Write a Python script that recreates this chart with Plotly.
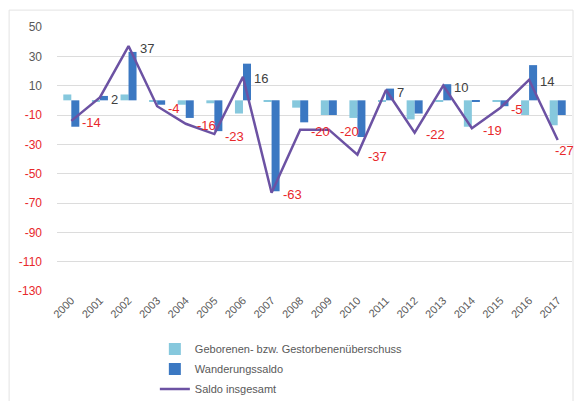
import plotly.graph_objects as go

# data
years = [str(y) for y in range(2000, 2018)]
natural = [4, -1, 4, -1, -3, -2, -9, -1, -5, -10, -12, -1, -13, -1, -18, -1, -10, -17]
migration = [-18, 3, 33, -3, -12, -21, 25, -62, -15, -10, -25, 8, -9, 11, -1, -4, 24, -10]
total = [-14, 2, 37, -4, -16, -23, 16, -63, -20, -20, -37, 7, -22, 10, -19, -5, 14, -27]
y_ticks = [50, 30, 10, -10, -30, -50, -70, -90, -110, -130]

grey = "#595959"
red = "#e8282b"

fig = go.Figure()

fig.add_trace(
    go.Bar(
        x=years,
        y=natural,
        name="Geborenen- bzw. Gestorbenenüberschuss",
        legendgroup="a",
        marker=dict(color="#86c8dd", line_width=0),
    )
)
fig.add_trace(
    go.Bar(
        x=years,
        y=migration,
        name="Wanderungssaldo",
        legendgroup="b",
        marker=dict(color="#3b78c2", line_width=0),
    )
)
fig.add_trace(
    go.Scatter(
        x=years,
        y=total,
        name="Saldo insgesamt",
        legendgroup="c",
        mode="lines",
        line=dict(color="#6c52a3", width=2.5),
    )
)

# value labels next to the line points (x = category index)
for i, v in enumerate(total):
    last = i == len(total) - 1
    fig.add_annotation(
        x=i,
        y=v,
        text=str(v),
        showarrow=False,
        xanchor="left",
        yanchor="middle",
        xshift=-5 if last else 9,
        yshift=-11 if last else -2,
        font=dict(size=13, color=red if v < 0 else "#404040"),
    )

# tick labels: negatives in red
tick_text = [
    f"<span style='color:{red}'>{v}</span>" if v < 0 else str(v) for v in y_ticks
]

# the page adds an 8px body margin on every side, so keep the figure inside the window
fig.update_layout(
    width=566,
    height=393,
    margin=dict(l=49, r=2, t=19, b=110, autoexpand=False),
    paper_bgcolor="white",
    plot_bgcolor="white",
    font=dict(family="Arial, Liberation Sans, sans-serif", size=11, color=grey),
    barmode="group",
    bargap=0.44,
    bargroupgap=0,
    showlegend=True,
    legend=dict(
        orientation="v",
        x=0.19,
        xanchor="left",
        y=-0.165,
        yanchor="top",
        font=dict(size=11, color=grey),
        tracegroupgap=1,
        itemwidth=30,
    ),
    shapes=[
        dict(
            type="rect",
            xref="paper",
            yref="paper",
            x0=-0.093,
            x1=1.002,
            y0=-0.6,
            y1=1.064,
            line=dict(color="#e3e3e3", width=1),
        )
    ],
)

fig.update_xaxes(
    type="category",
    categoryorder="array",
    categoryarray=years,
    range=[-0.5, len(years) - 0.5],
    tickangle=-45,
    tickfont=dict(size=11, color=grey),
    showgrid=False,
    showline=False,
    ticks="",
)
fig.update_yaxes(
    range=[-130, 50],
    tickvals=y_ticks,
    ticktext=tick_text,
    tickfont=dict(size=12, color=grey),
    showgrid=True,
    gridcolor="#dcdcdc",
    gridwidth=1,
    zeroline=False,
    showline=False,
    ticks="",
    ticklabelstandoff=14,
)

fig.write_html("out.html")
